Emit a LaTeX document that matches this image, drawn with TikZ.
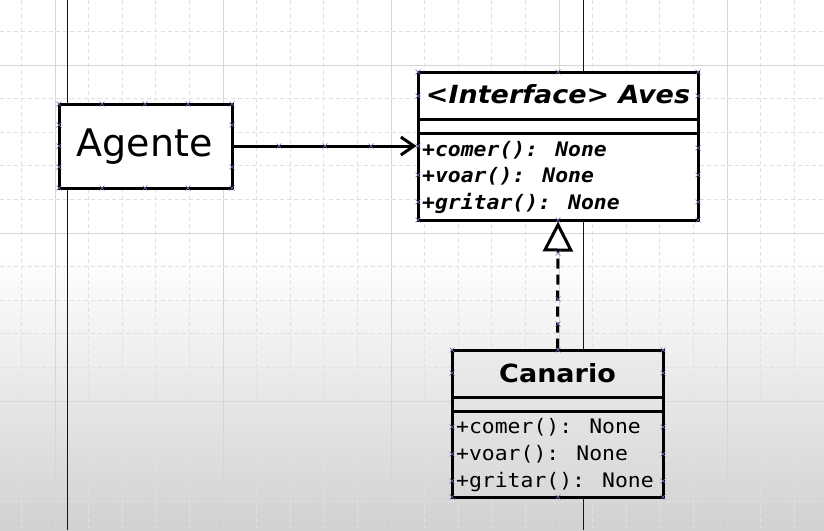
\documentclass[tikz,border=0pt]{standalone}
\usepackage{fontspec}
\setmainfont{DejaVu Sans}
\newfontfamily\titlefont[FakeStretch=1.08]{DejaVu Sans}
\newfontfamily\methfont[FakeStretch=1.07]{DejaVu Sans Mono}
\usetikzlibrary{arrows.meta,calc,positioning}
\definecolor{gridgray}{HTML}{E0E0E0}
\definecolor{majorgray}{HTML}{D6D6D6}
\definecolor{lanenavy}{HTML}{140C40}
\definecolor{markblue}{HTML}{6A6AA8}

\begin{document}
\begin{tikzpicture}[
    x=1pt, y=-1pt,
    minorgrid/.style={gridgray, line width=0.9pt, dash pattern=on 4pt off 3pt},
    majorgrid/.style={majorgray, line width=1pt},
    lane/.style={lanenavy, line width=1.4pt},
    umlbox/.style={draw, rectangle, line width=3pt, inner sep=0},
    sep/.style={line width=3pt},
    classtitle/.style={inner sep=0, anchor=base, font={\titlefont\bfseries\fontsize{25}{30}\selectfont}},
    absmeth/.style={inner sep=0, anchor=base west, font={\methfont\bfseries\itshape\fontsize{20}{24}\selectfont}},
    meth/.style={inner sep=0, anchor=base west, font={\methfont\fontsize{20}{24}\selectfont}},
    assoc/.style={line width=3pt, -{Straight Barb[length=13pt, width=18pt]}},
    realize/.style={line width=3pt, dash pattern=on 10pt off 6pt,
        -{Triangle[length=30pt, width=30pt, fill=white]}},
    jointmark/.style={markblue, line width=0.6pt}
]
% background
\useasboundingbox (0,0) rectangle (824,530);
\fill[white] (0,0) rectangle (824,256);
\shade[top color=white, bottom color=black!18] (0,255) rectangle (824,530);
\foreach \k in {0,...,24} {
    \pgfmathsetmacro\gx{21.4+33.6*\k}
    \draw[minorgrid] (\gx,0) -- (\gx,530);
}
\foreach \k in {0,...,16} {
    \pgfmathsetmacro\gy{-2.2+33.6*\k}
    \draw[minorgrid] (0,\gy) -- (824,\gy);
}
\foreach \gx in {55,223,391,559,727}
    \draw[majorgrid] (\gx,0) -- (\gx,530);
\foreach \gy in {65,233,401}
    \draw[majorgrid] (0,\gy) -- (824,\gy);
\draw[lane] (67.5,0) -- (67.5,530);
\draw[lane] (583.5,0) -- (583.5,530);

% classes
\node[umlbox, fill=white, minimum width=173pt, minimum height=84pt] (agente) at (145.5,146) {};
\node[inner sep=0, anchor=base, font=\fontsize{38}{45}\selectfont] (agentetxt) at (144.5,156) {Agente};

\node[umlbox, fill=white, minimum width=280pt, minimum height=148pt] (aves) at (558,146) {};
\draw[sep] ($(aves.north west)+(1.5,48.5)$) -- ($(aves.north east)+(-1.5,48.5)$);
\draw[sep] ($(aves.north west)+(1.5,62.5)$) -- ($(aves.north east)+(-1.5,62.5)$);
\node[classtitle, font={\titlefont\bfseries\itshape\fontsize{25}{30}\selectfont}] (avestitle) at (558,103) {<Interface> Aves};
\node[absmeth] (avesm1) at (422,156) {+comer(): None};
\node[absmeth] (avesm2) at (422,182) {+voar(): None};
\node[absmeth] (avesm3) at (422,209) {+gritar(): None};

\node[umlbox, top color=black!8, bottom color=black!15, draw=black, minimum width=211pt, minimum height=147pt] (canario) at (557.5,423.5) {};
\draw[sep] ($(canario.north west)+(1.5,48.5)$) -- ($(canario.north east)+(-1.5,48.5)$);
\draw[sep] ($(canario.north west)+(1.5,62.5)$) -- ($(canario.north east)+(-1.5,62.5)$);
\node[classtitle] (canariotitle) at (557.5,382) {Canario};
\node[meth] (canariom1) at (456,433) {+comer(): None};
\node[meth] (canariom2) at (456,460) {+voar(): None};
\node[meth] (canariom3) at (456,487) {+gritar(): None};

% relations
\draw[assoc] (agente.east) -- (aves.west);
\draw[realize] (canario.north) -- (aves.south);

% joint marks
\foreach \px/\py in {59/104,102/104,145/104,188/104,232/104,59/188,102/188,145/188,188/188,232/188,
    59/125,59/146,59/167,232/125,232/167,
    279/146,325/146,371/146,418/146,
    418/72,558/72,698/72,418/96,698/96,698/148,418/175,698/175,418/202,698/202,418/220,558/220,698/220,
    558/253,558/299,558/324,
    452/350,558/350,663/350,452/373,663/373,452/427,663/427,452/454,663/454,452/481,663/481,452/497,558/497,663/497}
    \draw[jointmark] (\px,\py) +(-2.5,-2.5) -- +(2.5,2.5) +(-2.5,2.5) -- +(2.5,-2.5);
\end{tikzpicture}
\end{document}
